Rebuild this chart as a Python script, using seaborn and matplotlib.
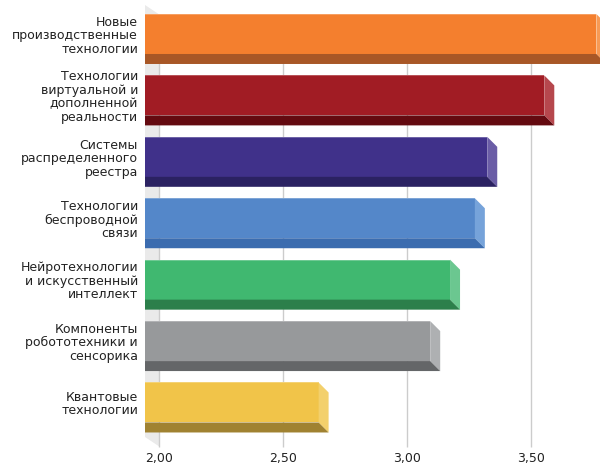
import matplotlib
matplotlib.use("Agg")
import matplotlib.pyplot as plt
from matplotlib.transforms import Affine2D, IdentityTransform
from matplotlib.patches import Polygon
import seaborn as sns
import pandas as pd
import numpy as np

categories = [
    "Новые\nпроизводственные\nтехнологии",
    "Технологии\nвиртуальной и\nдополненной\nреальности",
    "Системы\nраспределенного\nреестра",
    "Технологии\nбеспроводной\nсвязи",
    "Нейротехнологии\nи искусственный\nинтеллект",
    "Компоненты\nробототехники и\nсенсорика",
    "Квантовые\nтехнологии",
]
values = [3.82, 3.61, 3.38, 3.33, 3.23, 3.15, 2.70]
front_colors = ["#F47F2E", "#A11C24", "#40318A", "#5487C9", "#40B870", "#97999B", "#F1C449"]
bottom_colors = ["#A85726", "#640A10", "#2B2262", "#3B6CAF", "#2C7F4B", "#646668", "#A08231"]
side_colors = ["#F79A55", "#B6474D", "#6A5DA6", "#76A3DA", "#6BC790", "#AEB0B2", "#F3D06C"]
x_ticks = [2.0, 2.5, 3.0, 3.5]
x_tick_labels = ["2,00", "2,50", "3,00", "3,50"]

W, H, DPI = 600, 465, 100
sns.set_theme(style="white")
plt.rcParams['font.family'] = ['DejaVu Sans']

fig = plt.figure(figsize=(W / DPI, H / DPI), dpi=DPI)
fig.patch.set_facecolor("white")
ax = fig.add_axes([145 / W, 1 - 437 / H, (W - 145) / W, (437 - 5) / H])
ax.set_facecolor("none")

df = pd.DataFrame({"cat": categories, "val": values})
sns.barplot(data=df, x="val", y="cat", hue="cat", palette=front_colors,
            orient="h", width=0.651, legend=False, ax=ax, saturation=1,
            linewidth=0, zorder=3)

ax.set_xlim(2.0, 2.0 + (W - 145) / 248)
ax.set_ylim(6.562, -0.472)
for s in ax.spines.values():
    s.set_visible(False)
ax.set_xlabel("")
ax.set_ylabel("")

D = 10  # bar depth in pixels
for p in list(ax.patches):
    x0, y0 = p.get_x(), p.get_y()
    w, h = p.get_width(), p.get_height()
    idx = int(round(y0 + h / 2))
    (xa, ya), (xb, yb2) = ax.transData.transform([(x0, y0), (x0 + w, y0 + h)])
    xl, xr = min(xa, xb), max(xa, xb)
    yt, yb = max(ya, yb2), min(ya, yb2)
    side = Polygon([(xr, yt), (xr + D, yt - D), (xr + D, yb - D), (xr, yb)],
                   closed=True, transform=IdentityTransform(),
                   facecolor=side_colors[idx], lw=0, zorder=3)
    bottom = Polygon([(xl, yb), (xr, yb), (xr + D, yb - D), (xl, yb - D)],
                     closed=True, transform=IdentityTransform(),
                     facecolor=bottom_colors[idx], lw=0, zorder=3)
    ax.add_patch(side)
    ax.add_patch(bottom)
    hl = Polygon([(xl, yt), (xr, yt), (xr, yt - 1), (xl, yt - 1)], closed=True,
                 transform=IdentityTransform(), facecolor="white", alpha=0.25,
                 lw=0, zorder=3.5)
    ax.add_patch(hl)

# back wall on the left
TL = ax.transAxes.transform((0, 1))
BL = ax.transAxes.transform((0, 0))
wall = Polygon([TL, TL + np.array([15, -10]), BL + np.array([15, -10]), BL],
               closed=True, transform=IdentityTransform(), facecolor="#EAEAEA",
               lw=0, zorder=0.5, clip_on=False)
ax.add_patch(wall)

# gridlines on the back plane
ax.vlines(x_ticks, 0, 1, transform=ax.get_xaxis_transform() + Affine2D().translate(14, -10),
          colors="#CCCCCC", lw=1, zorder=1, clip_on=False)

ax.set_xticks(x_ticks, x_tick_labels)
ax.tick_params(axis="x", length=0, pad=3.5, labelsize=9, labelcolor="#222222")
ax.tick_params(axis="y", length=0, pad=5, labelsize=9, labelcolor="#222222")
for lbl in ax.get_xticklabels():
    lbl.set_transform(lbl.get_transform() + Affine2D().translate(14, -10))
for lbl in ax.get_yticklabels():
    lbl.set_linespacing(1.05)

fig.savefig("out.png", dpi=DPI)
